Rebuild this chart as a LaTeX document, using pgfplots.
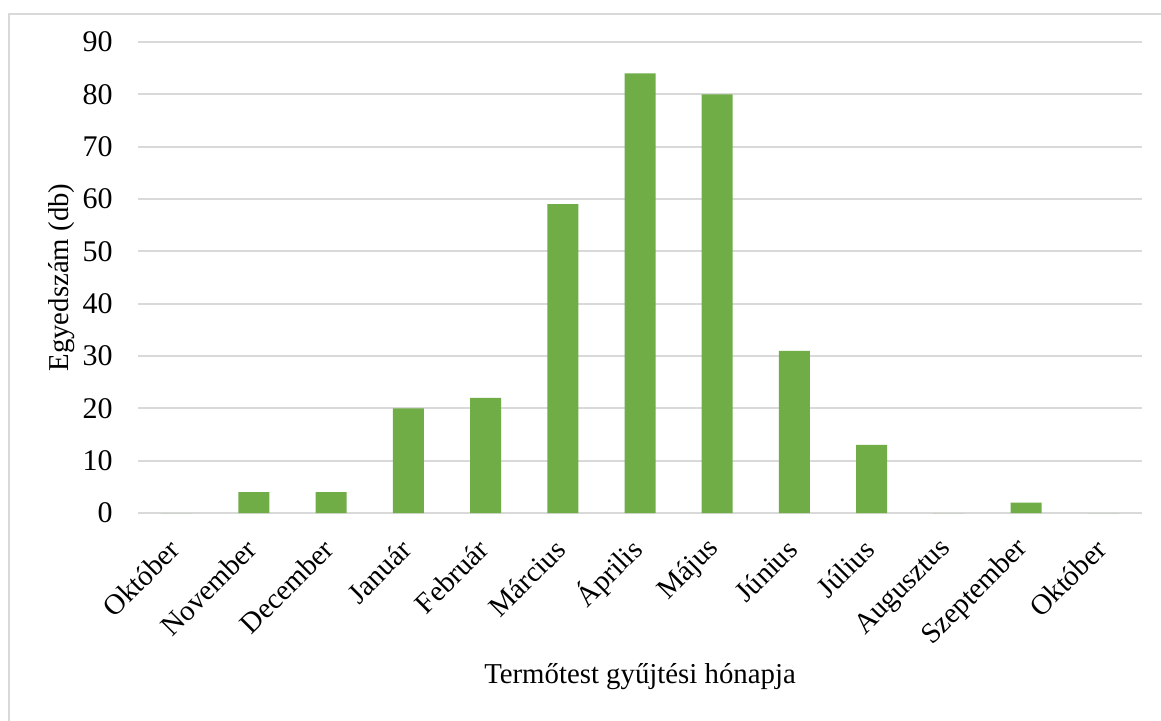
\documentclass[border=0pt]{standalone}
\usepackage{fontspec}
\setmainfont{Liberation Serif}
\usepackage{pgfplots}
\pgfplotsset{compat=1.18}
\definecolor{barGreen}{HTML}{70AD47}
\definecolor{gridGray}{HTML}{D9D9D9}
\definecolor{frameGray}{HTML}{D9D9D9}

\begin{document}
\begin{tikzpicture}
\clip (0,0) rectangle (580.5pt,360pt);
\fill[white] (0,0) rectangle (580.5pt,360pt);
\draw[frameGray, line width=1pt] (4.25pt,-20pt) rectangle (600pt,353.25pt);
\begin{axis}[
    at={(69pt,103.5pt)}, anchor=south west,
    scale only axis,
    width=502pt, height=235.5pt,
    font=\fontsize{14.4}{17}\selectfont,
    /pgf/number format/assume math mode=true,
    xmin=-0.5, xmax=12.5,
    ymin=0, ymax=90,
    ytick={0,10,...,90},
    xtick={0,...,12},
    xticklabels={Október,November,December,Január,Február,Március,Április,Május,Június,Július,Augusztus,Szeptember,Október},
    xticklabel style={rotate=45, anchor=east, inner sep=0pt, xshift=-1.5pt},
    xticklabel shift=10.5pt,
    yticklabel style={anchor=east, inner sep=0pt, font=\fontsize{15}{17}\selectfont},
    yticklabel shift=12.5pt,
    tick style={draw=none},
    axis line style={draw=none},
    ymajorgrids,
    major grid style={gridGray, line width=0.9pt},
    ylabel={Egyedszám (db)},
    ylabel style={at={(axis description cs:-0.0757,0.5)}, anchor=center},
    xlabel={Termőtest gyűjtési hónapja},
    xlabel style={at={(axis description cs:0.5,-0.361)}, anchor=base},
    ybar, bar width=15.5pt,
]
\addplot[fill=barGreen, draw=none] coordinates {
    (0,0) (1,4) (2,4) (3,20) (4,22) (5,59) (6,84)
    (7,80) (8,31) (9,13) (10,0) (11,2) (12,0)
};
\end{axis}
\end{tikzpicture}
\end{document}
